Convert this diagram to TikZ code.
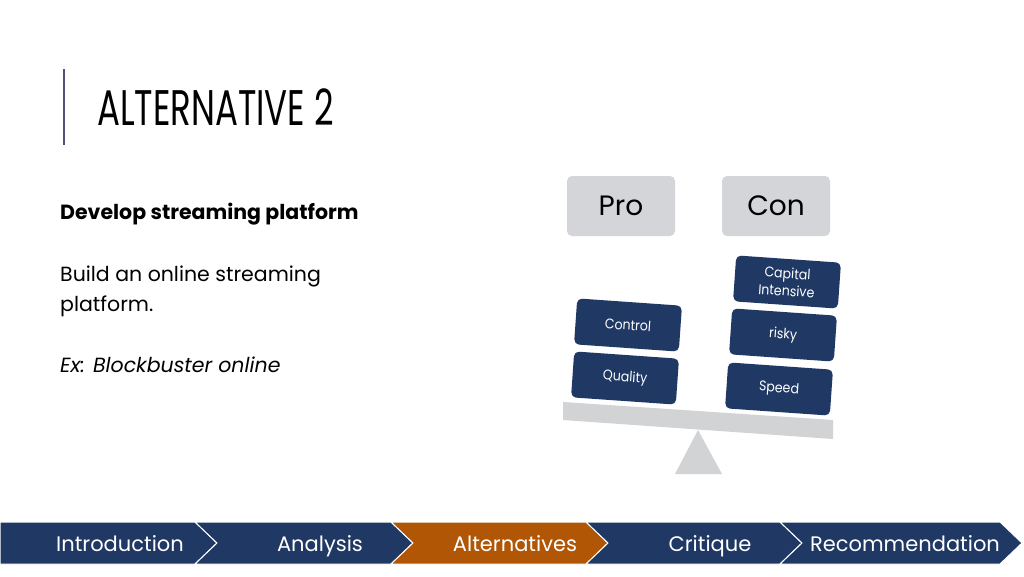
\documentclass[tikz,border=0pt]{standalone}
\usepackage{fontspec}
\setmainfont{Poppins}
\newfontfamily\titlefont{Poppins}[FakeStretch=0.68]
\newfontfamily\tilefont{Poppins}[FakeStretch=0.9]
\definecolor{navblue}{RGB}{31,56,100}
\definecolor{navorange}{RGB}{176,86,4}
\definecolor{boxgray}{RGB}{211,213,217}
\definecolor{beamgray}{RGB}{210,211,213}
\definecolor{rulepurple}{RGB}{80,80,122}
\usetikzlibrary{positioning}

\begin{document}
\begin{tikzpicture}[x=1pt,y=-1pt,
  tile/.style={fill=navblue, rounded corners=5pt, minimum width=105pt, minimum height=46pt, rotate=-4, text=white, align=center, inner sep=0pt, font=\tilefont\fontsize{14}{17.5}\selectfont},
  headbox/.style={fill=boxgray, rounded corners=5pt, minimum width=108pt, minimum height=60pt, font=\fontsize{28}{30}\selectfont},
  navlabel/.style={text=white, anchor=base, font=\fontsize{21}{24}\selectfont},
  chevron/.style={fill=navblue, draw=white, line width=1pt}]
  \fill[white] (0,0) rectangle (1024,576);
  \useasboundingbox (0,0) rectangle (1024,576);
  % Title
  \draw[rulepurple, line width=2pt] (64,69) -- (64,145);
  \node[anchor=base west, inner sep=0pt, font=\titlefont\fontsize{50}{52}\selectfont] (title) at (97,125) {ALTERNATIVE 2};
  % Left text
  \node[anchor=base west, inner sep=0pt, font=\bfseries\fontsize{20.5}{22}\selectfont] (head) at (60,219) {Develop streaming platform};
  \node[anchor=base west, inner sep=0pt, font=\fontsize{20.5}{22}\selectfont] (body1) at (60,281) {Build an online streaming};
  \node[anchor=base west, inner sep=0pt, font=\fontsize{20.5}{22}\selectfont] (body2) at (60,311) {platform.};
  \node[anchor=base west, inner sep=0pt, font=\itshape\fontsize{20.5}{22}\selectfont] (example) at (60,372) {Ex: Blockbuster online};
  % Pro / Con
  \node[headbox] (pro) at (621,206) {Pro};
  \node[headbox] (con) at (776,206) {Con};
  % Scale
  \fill[beamgray] (698,430) -- (722,474) -- (675,474) -- cycle;
  \fill[beamgray] (563,402) -- (833,420) -- (833,439) -- (563,420) -- cycle;
  \node[tile] (control) at (628,325) {Control};
  \node[tile] (quality) at (625,378) {Quality};
  \node[tile] (capital) at (787,282) {Capital\\Intensive};
  \node[tile] (risky) at (783,335) {risky};
  \node[tile] (speed) at (779,389) {Speed};
  % Navigation bar
  \filldraw[chevron] (0,522) -- (195,522) -- (217,543) -- (195,564) -- (0,564) -- cycle;
  \filldraw[chevron] (195,522) -- (391,522) -- (413,543) -- (391,564) -- (195,564) -- (217,543) -- cycle;
  \filldraw[chevron, fill=navorange] (391,522) -- (586,522) -- (608,543) -- (586,564) -- (391,564) -- (413,543) -- cycle;
  \filldraw[chevron] (586,522) -- (780,522) -- (802,543) -- (780,564) -- (586,564) -- (608,543) -- cycle;
  \filldraw[chevron] (780,522) -- (1000,522) -- (1022,543) -- (1000,564) -- (780,564) -- (802,543) -- cycle;
  \node[navlabel] (intro) at (120,551) {Introduction};
  \node[navlabel] (analysis) at (320,551) {Analysis};
  \node[navlabel] (alternatives) at (515,551) {Alternatives};
  \node[navlabel] (critique) at (710,551) {Critique};
  \node[navlabel] (recommendation) at (905,551) {Recommendation};
\end{tikzpicture}
\end{document}
